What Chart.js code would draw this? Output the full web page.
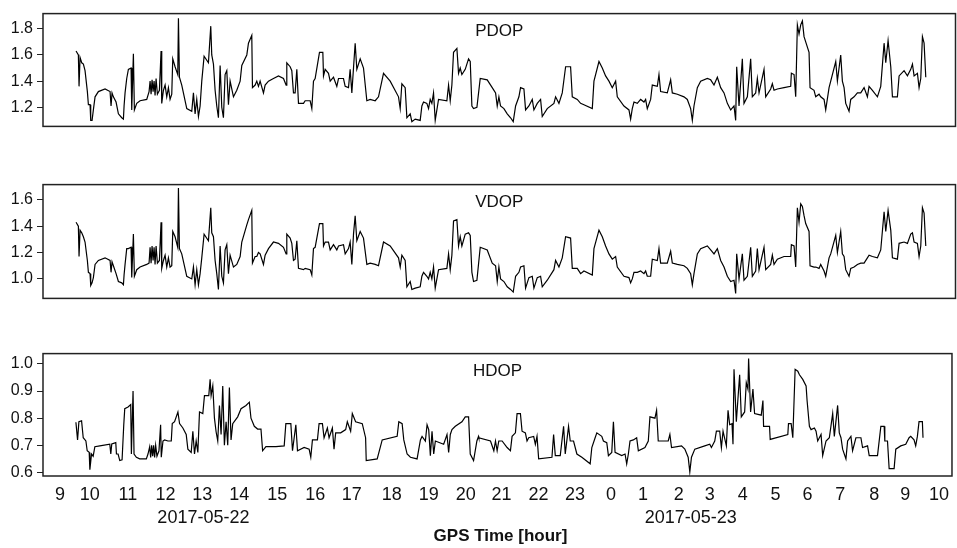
<!DOCTYPE html>
<html>
<head>
<meta charset="utf-8">
<script src="https://cdn.jsdelivr.net/npm/chart.js@4.4.1/dist/chart.umd.min.js"></script>
<style>
  html, body { margin: 0; padding: 0; background: #fff; }
  #wrap { position: relative; width: 957px; height: 548px; }
  .panel { position: absolute; left: 0; }
</style>
</head>
<body>
<div id="wrap">
  <canvas id="pdopChart" class="panel" width="957" height="140" style="top:0px"></canvas>
  <canvas id="vdopChart" class="panel" width="957" height="141" style="top:171px"></canvas>
  <canvas id="hdopChart" class="panel" width="957" height="208" style="top:340px"></canvas>
</div>
<script>
// DOP time series, GPS time in hours (values past 24 = next day)
const hourTicks = [9.00, 9.85, 10.93, 12.00, 13.05, 14.10, 15.18, 16.26, 17.30, 18.44, 19.49, 20.54, 21.56,
  22.61, 23.65, 24.67, 25.58, 26.60, 27.48, 28.42, 29.35, 30.26, 31.19, 32.16, 33.04, 34.00];
const hourLabels = ['9', '10', '11', '12', '13', '14', '15', '16', '17', '18', '19', '20', '21', '22', '23',
  '0', '1', '2', '3', '4', '5', '6', '7', '8', '9', '10'];
const dateLabels = ['2017-05-22', '2017-05-23'];
const dateHours = [13.08, 26.94];
const xTitle = 'GPS Time [hour]';

const pdopTicks = [1.2, 1.4, 1.6, 1.8];
const vdopTicks = [1.0, 1.2, 1.4, 1.6];
const hdopTicks = [0.6, 0.7, 0.8, 0.9, 1.0];

// PDOP and VDOP share the same epochs
const pvHours = [
  9.454, 9.520, 9.539, 9.568, 9.615, 9.662, 9.709, 9.775, 9.804, 9.851,
  9.870, 9.908, 9.945, 9.993, 10.087, 10.276, 10.418, 10.446, 10.474, 10.512,
  10.588, 10.654, 10.749, 10.796, 10.815, 10.843, 10.890, 10.937, 11.013, 11.032,
  11.079, 11.107, 11.174, 11.268, 11.457, 11.523, 11.552, 11.580, 11.608, 11.637,
  11.665, 11.693, 11.722, 11.759, 11.816, 11.863, 11.882, 11.930, 11.977, 12.024,
  12.071, 12.118, 12.166, 12.194, 12.260, 12.336, 12.355, 12.383, 12.449, 12.591,
  12.733, 12.780, 12.827, 12.874, 12.922, 12.969, 13.016, 13.082, 13.205, 13.271,
  13.299, 13.347, 13.394, 13.441, 13.488, 13.536, 13.583, 13.630, 13.677, 13.725,
  13.772, 13.819, 13.914, 14.008, 14.103, 14.150, 14.292, 14.339, 14.433, 14.452,
  14.528, 14.575, 14.622, 14.669, 14.764, 14.811, 14.906, 15.047, 15.189, 15.331,
  15.406, 15.425, 15.520, 15.567, 15.614, 15.661, 15.709, 15.756, 15.898, 15.945,
  16.087, 16.134, 16.181, 16.228, 16.351, 16.446, 16.465, 16.512, 16.606, 16.654,
  16.748, 16.842, 16.890, 17.031, 17.079, 17.173, 17.220, 17.268, 17.315, 17.362,
  17.409, 17.504, 17.598, 17.693, 17.787, 17.929, 18.023, 18.165, 18.354, 18.590,
  18.638, 18.685, 18.779, 18.827, 18.921, 18.968, 19.063, 19.204, 19.252, 19.299,
  19.393, 19.441, 19.488, 19.535, 19.582, 19.630, 19.724, 19.960, 20.008, 20.055,
  20.102, 20.149, 20.244, 20.291, 20.338, 20.385, 20.480, 20.574, 20.622, 20.669,
  20.716, 20.811, 20.905, 21.103, 21.245, 21.340, 21.387, 21.434, 21.481, 21.576,
  21.670, 21.765, 21.840, 21.907, 22.001, 22.048, 22.143, 22.190, 22.284, 22.379,
  22.426, 22.521, 22.615, 22.662, 22.804, 22.993, 23.040, 23.135, 23.229, 23.324,
  23.465, 23.513, 23.654, 23.749, 23.843, 24.080, 24.127, 24.269, 24.363, 24.457,
  24.552, 24.646, 24.741, 24.788, 24.977, 25.119, 25.166, 25.213, 25.261, 25.355,
  25.450, 25.544, 25.591, 25.638, 25.733, 25.780, 25.922, 25.969, 26.016, 26.205,
  26.300, 26.347, 26.489, 26.678, 26.772, 26.867, 26.914, 26.961, 27.056, 27.150,
  27.339, 27.434, 27.528, 27.623, 27.717, 27.812, 27.906, 28.001, 28.095, 28.142,
  28.171, 28.237, 28.331, 28.378, 28.473, 28.567, 28.614, 28.709, 28.756, 28.804,
  28.945, 28.993, 29.134, 29.181, 29.229, 29.323, 29.512, 29.701, 29.720, 29.796,
  29.843, 29.890, 29.937, 29.985, 30.032, 30.079, 30.126, 30.221, 30.249, 30.362,
  30.410, 30.504, 30.551, 30.646, 30.693, 30.788, 30.835, 30.977, 31.024, 31.118,
  31.165, 31.213, 31.260, 31.354, 31.402, 31.496, 31.591, 31.685, 31.780, 31.874,
  31.921, 32.016, 32.158, 32.252, 32.347, 32.394, 32.460, 32.536, 32.583, 32.724,
  32.772, 32.913, 33.008, 33.102, 33.150, 33.197, 33.291, 33.338, 33.386, 33.433,
  33.480, 33.528
];

const pdop = [
  1.63, 1.60, 1.36, 1.58, 1.54, 1.53, 1.48, 1.32, 1.22, 1.22,
  1.10, 1.10, 1.18, 1.28, 1.32, 1.34, 1.32, 1.21, 1.31, 1.28,
  1.24, 1.15, 1.12, 1.11, 1.21, 1.31, 1.42, 1.49, 1.50, 1.18,
  1.61, 1.18, 1.23, 1.25, 1.26, 1.32, 1.40, 1.30, 1.41, 1.32,
  1.40, 1.29, 1.42, 1.30, 1.33, 1.63, 1.23, 1.33, 1.37, 1.28,
  1.35, 1.26, 1.30, 1.57, 1.51, 1.45, 1.88, 1.43, 1.37, 1.19,
  1.17, 1.31, 1.15, 1.26, 1.13, 1.21, 1.40, 1.59, 1.54, 1.82,
  1.60, 1.53, 1.33, 1.21, 1.12, 1.52, 1.20, 1.12, 1.45, 1.48,
  1.22, 1.40, 1.28, 1.33, 1.40, 1.52, 1.60, 1.69, 1.75, 1.35,
  1.37, 1.40, 1.36, 1.40, 1.31, 1.37, 1.40, 1.42, 1.44, 1.42,
  1.37, 1.54, 1.51, 1.48, 1.31, 1.31, 1.49, 1.23, 1.23, 1.25,
  1.25, 1.19, 1.40, 1.42, 1.62, 1.62, 1.44, 1.49, 1.46, 1.40,
  1.43, 1.36, 1.42, 1.42, 1.36, 1.35, 1.49, 1.31, 1.50, 1.69,
  1.49, 1.57, 1.50, 1.25, 1.26, 1.25, 1.28, 1.46, 1.40, 1.28,
  1.19, 1.38, 1.35, 1.12, 1.15, 1.09, 1.11, 1.10, 1.21, 1.24,
  1.23, 1.19, 1.26, 1.23, 1.31, 1.10, 1.26, 1.25, 1.37, 1.25,
  1.37, 1.62, 1.65, 1.46, 1.50, 1.45, 1.49, 1.57, 1.55, 1.21,
  1.19, 1.20, 1.42, 1.41, 1.35, 1.31, 1.21, 1.28, 1.21, 1.19,
  1.15, 1.12, 1.09, 1.21, 1.28, 1.35, 1.34, 1.18, 1.21, 1.26,
  1.18, 1.23, 1.26, 1.13, 1.19, 1.23, 1.28, 1.23, 1.31, 1.51,
  1.51, 1.28, 1.26, 1.23, 1.22, 1.19, 1.40, 1.55, 1.50, 1.44,
  1.40, 1.35, 1.40, 1.28, 1.21, 1.18, 1.11, 1.19, 1.24, 1.23,
  1.26, 1.24, 1.26, 1.19, 1.26, 1.37, 1.36, 1.45, 1.32, 1.31,
  1.41, 1.31, 1.30, 1.28, 1.26, 1.19, 1.10, 1.21, 1.35, 1.40,
  1.42, 1.41, 1.37, 1.43, 1.35, 1.31, 1.23, 1.18, 1.21, 1.10,
  1.51, 1.21, 1.57, 1.23, 1.28, 1.57, 1.28, 1.31, 1.42, 1.31,
  1.49, 1.28, 1.34, 1.38, 1.33, 1.34, 1.35, 1.36, 1.46, 1.45,
  1.28, 1.83, 1.76, 1.83, 1.86, 1.74, 1.70, 1.62, 1.35, 1.33,
  1.28, 1.30, 1.28, 1.26, 1.18, 1.35, 1.40, 1.55, 1.40, 1.60,
  1.40, 1.35, 1.23, 1.17, 1.26, 1.28, 1.31, 1.31, 1.35, 1.28,
  1.36, 1.33, 1.28, 1.36, 1.69, 1.54, 1.71, 1.51, 1.28, 1.28,
  1.44, 1.48, 1.44, 1.49, 1.53, 1.44, 1.46, 1.35, 1.42, 1.74,
  1.69, 1.43
];

const vdop = [
  1.43, 1.40, 1.17, 1.37, 1.35, 1.32, 1.28, 1.14, 1.05, 1.04,
  0.95, 0.97, 1.01, 1.11, 1.14, 1.16, 1.14, 1.05, 1.13, 1.10,
  1.04, 0.98, 0.97, 0.955, 1.03, 1.11, 1.23, 1.23, 1.24, 1.01,
  1.34, 1.02, 1.07, 1.09, 1.11, 1.12, 1.24, 1.12, 1.25, 1.14,
  1.24, 1.11, 1.25, 1.12, 1.14, 1.43, 1.08, 1.14, 1.18, 1.09,
  1.16, 1.09, 1.10, 1.36, 1.32, 1.24, 1.69, 1.23, 1.19, 1.02,
  1.00, 1.09, 0.955, 1.07, 0.955, 1.04, 1.16, 1.34, 1.29, 1.54,
  1.35, 1.32, 1.14, 1.04, 0.92, 1.25, 1.02, 0.97, 1.22, 1.26,
  1.04, 1.18, 1.09, 1.11, 1.17, 1.28, 1.41, 1.45, 1.52, 1.12,
  1.17, 1.17, 1.20, 1.19, 1.11, 1.18, 1.23, 1.28, 1.27, 1.24,
  1.19, 1.34, 1.31, 1.27, 1.14, 1.15, 1.29, 1.08, 1.07, 1.08,
  1.07, 1.03, 1.23, 1.24, 1.42, 1.42, 1.25, 1.28, 1.28, 1.22,
  1.26, 1.22, 1.25, 1.26, 1.19, 1.23, 1.28, 1.11, 1.34, 1.48,
  1.29, 1.36, 1.31, 1.11, 1.12, 1.11, 1.10, 1.28, 1.25, 1.16,
  1.09, 1.18, 1.14, 0.94, 0.98, 0.92, 0.93, 0.94, 1.02, 1.05,
  1.02, 1.00, 1.05, 1.00, 1.09, 0.93, 1.07, 1.08, 1.19, 1.07,
  1.18, 1.44, 1.45, 1.25, 1.32, 1.25, 1.34, 1.35, 1.33, 1.05,
  0.98, 0.99, 1.24, 1.22, 1.12, 1.10, 0.98, 1.09, 1.00, 0.98,
  0.94, 0.92, 0.90, 1.02, 1.05, 1.09, 1.10, 0.93, 1.01, 1.02,
  0.93, 1.01, 1.02, 0.94, 0.99, 1.07, 1.14, 1.09, 1.16, 1.32,
  1.31, 1.08, 1.08, 1.04, 1.06, 1.03, 1.23, 1.37, 1.32, 1.25,
  1.19, 1.15, 1.17, 1.09, 1.02, 1.01, 0.97, 1.00, 1.05, 1.05,
  1.06, 1.04, 1.06, 1.02, 1.02, 1.15, 1.14, 1.23, 1.12, 1.12,
  1.21, 1.12, 1.11, 1.10, 1.08, 1.04, 0.955, 1.04, 1.19, 1.23,
  1.25, 1.22, 1.19, 1.23, 1.14, 1.09, 1.02, 0.98, 0.99, 0.89,
  1.19, 1.00, 1.19, 0.99, 1.02, 1.24, 1.02, 1.06, 1.23, 1.07,
  1.24, 1.07, 1.11, 1.18, 1.11, 1.15, 1.17, 1.17, 1.26, 1.25,
  1.09, 1.54, 1.43, 1.57, 1.55, 1.48, 1.42, 1.36, 1.10, 1.09,
  1.09, 1.08, 1.11, 1.06, 1.02, 1.16, 1.19, 1.33, 1.20, 1.36,
  1.19, 1.17, 1.07, 1.02, 1.08, 1.09, 1.11, 1.12, 1.12, 1.16,
  1.18, 1.17, 1.16, 1.22, 1.51, 1.36, 1.52, 1.37, 1.16, 1.15,
  1.27, 1.28, 1.27, 1.34, 1.35, 1.28, 1.27, 1.17, 1.25, 1.54,
  1.50, 1.25
];

const hHours = [
  9.454, 9.501, 9.539, 9.615, 9.662, 9.738, 9.775, 9.832, 9.851, 9.898,
  9.945, 9.993, 10.134, 10.418, 10.446, 10.474, 10.588, 10.607, 10.654, 10.701,
  10.767, 10.815, 10.843, 10.937, 11.013, 11.032, 11.079, 11.107, 11.174, 11.268,
  11.457, 11.504, 11.552, 11.580, 11.608, 11.637, 11.665, 11.693, 11.722, 11.759,
  11.816, 11.863, 11.882, 11.930, 11.977, 12.071, 12.166, 12.194, 12.260, 12.355,
  12.402, 12.496, 12.591, 12.638, 12.733, 12.780, 12.827, 12.874, 12.922, 12.969,
  13.063, 13.110, 13.233, 13.271, 13.299, 13.347, 13.394, 13.441, 13.488, 13.536,
  13.583, 13.630, 13.677, 13.725, 13.772, 13.819, 13.866, 13.914, 14.055, 14.150,
  14.292, 14.386, 14.433, 14.528, 14.622, 14.717, 14.764, 14.858, 15.142, 15.378,
  15.425, 15.567, 15.614, 15.709, 15.756, 15.945, 16.087, 16.134, 16.181, 16.323,
  16.370, 16.465, 16.512, 16.606, 16.654, 16.748, 16.795, 16.842, 16.984, 17.126,
  17.173, 17.268, 17.315, 17.409, 17.598, 17.693, 17.711, 18.023, 18.165, 18.590,
  18.638, 18.732, 18.779, 18.874, 18.968, 19.157, 19.252, 19.299, 19.393, 19.441,
  19.488, 19.535, 19.582, 19.630, 19.677, 19.913, 20.008, 20.055, 20.102, 20.149,
  20.244, 20.433, 20.527, 20.622, 20.669, 20.764, 20.858, 20.905, 20.914, 21.245,
  21.340, 21.387, 21.434, 21.481, 21.576, 21.718, 21.812, 21.859, 21.954, 22.001,
  22.096, 22.143, 22.237, 22.284, 22.332, 22.473, 22.521, 22.568, 22.615, 22.993,
  23.040, 23.088, 23.229, 23.324, 23.371, 23.465, 23.513, 23.607, 23.702, 23.843,
  24.080, 24.127, 24.221, 24.269, 24.410, 24.457, 24.552, 24.599, 24.694, 24.741,
  24.788, 24.977, 25.072, 25.119, 25.166, 25.213, 25.308, 25.402, 25.450, 25.638,
  25.733, 25.780, 25.922, 25.969, 26.016, 26.300, 26.347, 26.394, 26.678, 26.772,
  26.867, 26.914, 26.961, 27.056, 27.339, 27.481, 27.528, 27.623, 27.670, 27.764,
  27.812, 27.859, 27.953, 28.001, 28.048, 28.114, 28.142, 28.171, 28.237, 28.331,
  28.378, 28.473, 28.520, 28.567, 28.586, 28.643, 28.709, 28.756, 28.945, 28.993,
  29.012, 29.181, 29.200, 29.701, 29.720, 29.796, 29.843, 29.909, 29.985, 30.032,
  30.126, 30.221, 30.249, 30.315, 30.362, 30.457, 30.504, 30.551, 30.646, 30.693,
  30.788, 30.882, 30.977, 31.024, 31.118, 31.165, 31.213, 31.260, 31.354, 31.402,
  31.496, 31.543, 31.638, 31.780, 31.827, 31.969, 32.016, 32.252, 32.347, 32.441,
  32.460, 32.536, 32.583, 32.724, 32.772, 32.913, 33.055, 33.150, 33.197, 33.291,
  33.338, 33.386, 33.433, 33.528, 33.546
];

const hdop = [
  0.785, 0.72, 0.787, 0.79, 0.728, 0.716, 0.68, 0.674, 0.61, 0.668,
  0.66, 0.695, 0.698, 0.704, 0.668, 0.705, 0.71, 0.668, 0.668, 0.644,
  0.647, 0.776, 0.835, 0.841, 0.85, 0.668, 0.90, 0.668, 0.656, 0.65,
  0.65, 0.668, 0.695, 0.655, 0.70, 0.66, 0.70, 0.655, 0.70, 0.66,
  0.68, 0.776, 0.656, 0.716, 0.72, 0.716, 0.716, 0.78, 0.787, 0.823,
  0.78, 0.764, 0.74, 0.686, 0.674, 0.752, 0.668, 0.716, 0.674, 0.823,
  0.817, 0.883, 0.883, 0.943, 0.883, 0.919, 0.80, 0.75, 0.716, 0.847,
  0.74, 0.919, 0.70, 0.787, 0.70, 0.913, 0.72, 0.78, 0.805, 0.835,
  0.847, 0.859, 0.80, 0.77, 0.76, 0.76, 0.68, 0.695, 0.695, 0.698,
  0.78, 0.78, 0.68, 0.776, 0.68, 0.692, 0.686, 0.656, 0.72, 0.72,
  0.78, 0.78, 0.728, 0.764, 0.728, 0.764, 0.686, 0.746, 0.746, 0.758,
  0.787, 0.752, 0.817, 0.787, 0.78, 0.728, 0.644, 0.65, 0.72, 0.733,
  0.787, 0.78, 0.72, 0.668, 0.656, 0.65, 0.72, 0.733, 0.716, 0.776,
  0.758, 0.662, 0.752, 0.668, 0.716, 0.704, 0.74, 0.674, 0.74, 0.758,
  0.77, 0.787, 0.805, 0.805, 0.668, 0.644, 0.716, 0.733, 0.728, 0.716,
  0.68, 0.716, 0.68, 0.716, 0.716, 0.692, 0.68, 0.733, 0.746, 0.817,
  0.817, 0.752, 0.746, 0.716, 0.728, 0.733, 0.704, 0.733, 0.65, 0.656,
  0.74, 0.662, 0.662, 0.77, 0.668, 0.77, 0.716, 0.716, 0.668, 0.656,
  0.632, 0.692, 0.728, 0.746, 0.733, 0.716, 0.71, 0.662, 0.674, 0.787,
  0.674, 0.662, 0.668, 0.632, 0.668, 0.716, 0.72, 0.728, 0.68, 0.692,
  0.716, 0.805, 0.80, 0.829, 0.716, 0.716, 0.74, 0.692, 0.698, 0.686,
  0.656, 0.602, 0.656, 0.686, 0.698, 0.704, 0.692, 0.716, 0.752, 0.752,
  0.692, 0.752, 0.698, 0.829, 0.776, 0.78, 0.704, 0.98, 0.787, 0.96,
  0.805, 0.823, 0.931, 0.907, 1.02, 0.823, 0.907, 0.817, 0.811, 0.865,
  0.77, 0.77, 0.722, 0.74, 0.78, 0.78, 0.728, 0.98, 0.973, 0.96,
  0.943, 0.919, 0.865, 0.77, 0.758, 0.764, 0.752, 0.716, 0.74, 0.662,
  0.716, 0.728, 0.817, 0.733, 0.847, 0.746, 0.728, 0.686, 0.65, 0.716,
  0.733, 0.68, 0.728, 0.728, 0.692, 0.698, 0.662, 0.662, 0.77, 0.77,
  0.716, 0.716, 0.614, 0.614, 0.686, 0.698, 0.704, 0.728, 0.733, 0.72,
  0.698, 0.733, 0.787, 0.787, 0.728
];

const FONT = "'Liberation Sans Narrow', 'Liberation Sans', Arial, sans-serif";

// frame round the plot area + panel name inside
const framePlugin = {
  id: 'frame',
  afterDraw(chart, args, opts) {
    const { ctx, chartArea: a } = chart;
    ctx.save();
    ctx.strokeStyle = '#222';
    ctx.lineWidth = 1.5;
    ctx.strokeRect(a.left, a.top, a.right - a.left, a.bottom - a.top);
    ctx.fillStyle = '#111';
    ctx.font = `17px ${FONT}`;
    ctx.textAlign = 'center';
    ctx.textBaseline = 'middle';
    ctx.fillText(opts.title, (a.left + a.right) / 2, a.top + 18);
    ctx.restore();
  }
};

// dates and axis title under the last panel
const footerPlugin = {
  id: 'footer',
  afterDraw(chart) {
    const { ctx, chartArea: a, scales: { x } } = chart;
    ctx.save();
    ctx.fillStyle = '#111';
    ctx.textAlign = 'center';
    ctx.textBaseline = 'middle';
    ctx.font = `18px ${FONT}`;
    dateLabels.forEach((d, i) => ctx.fillText(d, x.getPixelForValue(dateHours[i]), a.bottom + 42));
    ctx.font = `bold 17px ${FONT}`;
    ctx.fillText(xTitle, (a.left + a.right) / 2 + 3, a.bottom + 60);
    ctx.restore();
  }
};

function makePanel(id, title, hours, values, yMin, yMax, yTicks, bottom) {
  return new Chart(document.getElementById(id), {
    type: 'line',
    data: {
      datasets: [{
        data: hours.map((h, i) => ({ x: h, y: values[i] })),
        borderColor: '#000',
        borderWidth: 1.2,
        pointRadius: 0,
        tension: 0,
        fill: false
      }]
    },
    options: {
      responsive: false,
      animation: false,
      devicePixelRatio: 1,
      layout: {
        autoPadding: false,
        padding: bottom ? { top: 10, right: 1.5, bottom: 0, left: 0 } : { top: 7, right: 1.5, bottom: 7, left: 0 }
      },
      plugins: {
        legend: { display: false },
        tooltip: { enabled: false },
        frame: { title }
      },
      scales: {
        x: {
          type: 'linear',
          min: 8.518,
          max: 34.37,
          display: bottom,
          grid: { display: false, drawTicks: false },
          border: { display: false },
          afterBuildTicks: s => { s.ticks = hourTicks.map(v => ({ value: v })); },
          afterFit: s => { if (bottom) s.height = 72; },
          ticks: {
            autoSkip: false,
            maxRotation: 0,
            padding: 8,
            color: '#111',
            font: { family: FONT, size: 18 },
            callback: (v, i) => hourLabels[i]
          }
        },
        y: {
          min: yMin,
          max: yMax,
          afterBuildTicks: s => { s.ticks = yTicks.map(v => ({ value: v })); },
          afterFit: s => { s.width = 43; },
          grid: { drawOnChartArea: false, drawTicks: true, tickLength: 6, color: '#222' },
          border: { display: false },
          ticks: {
            padding: 4,
            color: '#111',
            font: { family: FONT, size: 16 },
            callback: v => v.toFixed(1)
          }
        }
      }
    },
    plugins: bottom ? [framePlugin, footerPlugin] : [framePlugin]
  });
}

makePanel('pdopChart', 'PDOP', pvHours, pdop, 1.054, 1.916, pdopTicks, false);
makePanel('vdopChart', 'VDOP', pvHours, vdop, 0.852, 1.716, vdopTicks, false);
makePanel('hdopChart', 'HDOP', hHours, hdop, 0.587, 1.038, hdopTicks, true);
</script>
</body>
</html>
